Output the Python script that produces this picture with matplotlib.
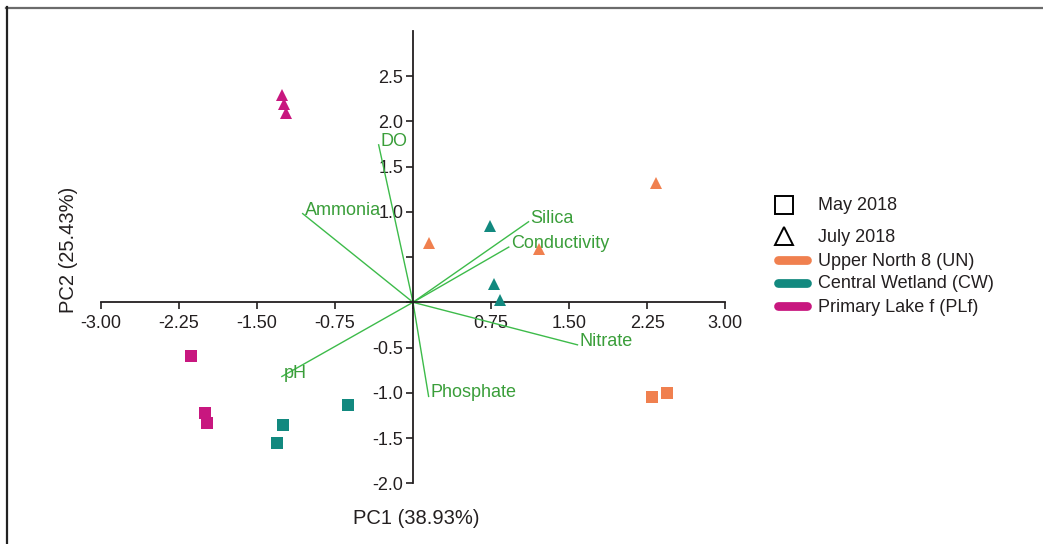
import matplotlib
matplotlib.use("Agg")
import matplotlib.pyplot as plt
from matplotlib.lines import Line2D
import numpy as np

plt.rcParams['font.family'] = ['Liberation Sans', 'DejaVu Sans']

# ---- data ----
sites = ["Upper North 8 (UN)", "Central Wetland (CW)", "Primary Lake f (PLf)"]
site_colors = ["#F0804F", "#12897F", "#C8177F"]
months = ["May 2018", "July 2018"]
month_markers = ["s", "^"]

# scores: (site index, month index, PC1, PC2)
score_site = [0, 0, 0, 0, 0,
              1, 1, 1, 1, 1, 1,
              2, 2, 2, 2, 2, 2]
score_month = [0, 0, 1, 1, 1,
               0, 0, 0, 1, 1, 1,
               0, 0, 0, 1, 1, 1]
score_pc1 = [2.30, 2.44, 2.33, 0.15, 1.21,
             -0.62, -1.25, -1.31, 0.74, 0.78, 0.84,
             -2.13, -2.00, -1.98, -1.26, -1.24, -1.22]
score_pc2 = [-1.05, -1.00, 1.32, 0.66, 0.59,
             -1.13, -1.36, -1.56, 0.84, 0.20, 0.02,
             -0.59, -1.22, -1.33, 2.29, 2.19, 2.09]

vec_names = ["DO", "Ammonia", "pH", "Silica", "Conductivity", "Nitrate", "Phosphate"]
vec_pc1 = [-0.33, -1.06, -1.26, 1.11, 0.92, 1.58, 0.15]
vec_pc2 = [1.74, 0.98, -0.82, 0.89, 0.61, -0.47, -1.04]

xticks = [-3.00, -2.25, -1.50, -0.75, 0.0, 0.75, 1.50, 2.25, 3.00]
xticklabels = ["-3.00", "-2.25", "-1.50", "-0.75", "", "0.75", "1.50", "2.25", "3.00"]
yticks = [-2.0, -1.5, -1.0, -0.5, 0.0, 0.5, 1.0, 1.5, 2.0, 2.5]
yticklabels = ["-2.0", "-1.5", "-1.0", "-0.5", "", "", "1.0", "1.5", "2.0", "2.5"]

xlabel = "PC1 (38.93%)"
ylabel = "PC2 (25.43%)"

# ---- figure ----
W, H = 1043, 544
fig = plt.figure(figsize=(W / 100, H / 100), dpi=100)

xlim = (-3.3, 3.3)
ylim = (-2.3, 3.1)
x0px = 413.0
ux = 104.1
y0px = 302.3
uy = 90.5
left = x0px + xlim[0] * ux
right = x0px + xlim[1] * ux
top = y0px - ylim[1] * uy
bottom = y0px - ylim[0] * uy
ax = fig.add_axes([left / W, 1 - bottom / H, (right - left) / W, (bottom - top) / H])
ax.set_xlim(*xlim)
ax.set_ylim(*ylim)
ax.patch.set_alpha(0)

axis_col = "#231F20"
for s in ["top", "right"]:
    ax.spines[s].set_visible(False)
ax.spines["left"].set_position("zero")
ax.spines["bottom"].set_position("zero")
ax.spines["left"].set_bounds(-2.0, 3.0)
ax.spines["bottom"].set_bounds(-3.0, 3.0)
for s in ["left", "bottom"]:
    ax.spines[s].set_color(axis_col)
    ax.spines[s].set_linewidth(1.3)

ax.set_xticks(xticks)
ax.set_xticklabels(xticklabels)
ax.set_yticks(yticks)
ax.set_yticklabels(yticklabels)
ax.tick_params(axis="both", direction="out", length=5, width=1.2, color=axis_col,
               labelsize=13, labelcolor=axis_col)
ax.tick_params(axis="x", pad=4)
ax.tick_params(axis="y", pad=2)

# vectors
vec_line = "#3DBB4A"
vec_text = "#3A9E3A"
for name, vx, vy in zip(vec_names, vec_pc1, vec_pc2):
    ax.plot([0, vx], [0, vy], color=vec_line, lw=1.0, zorder=2)
    ax.annotate(name, (vx, vy), xytext=(1.5, 2.5), textcoords="offset points",
                ha="left", va="center", color=vec_text, fontsize=13, zorder=3)

# scores
for si, mi, px, py in zip(score_site, score_month, score_pc1, score_pc2):
    mk = month_markers[mi]
    ms = 8 if mk == "s" else 9
    ax.plot([px], [py], marker=mk, color=site_colors[si], markersize=ms,
            linestyle="none", markeredgewidth=0, zorder=4)

# axis labels
fig.text(416 / W, 1 - 518 / H, xlabel, ha="center", va="center", fontsize=14.5,
         color=axis_col)
fig.text(68 / W, 1 - 250 / H, ylabel, ha="center", va="center", fontsize=14.5,
         rotation=90, color=axis_col)

# legend (manual)
leg_x_handle = 784 / W
leg_x_text = 818 / W
month_rows = [205, 236]
site_rows = [260, 283, 306]
for lab, mk, ry in zip(months, month_markers, month_rows):
    fig.add_artist(Line2D([leg_x_handle], [1 - ry / H], marker=mk, markersize=13,
                          markerfacecolor="none", markeredgecolor="black",
                          markeredgewidth=1.4, linestyle="none",
                          transform=fig.transFigure))
    fig.text(leg_x_text, 1 - (ry + 1) / H, lab, ha="left", va="center", fontsize=13,
             color=axis_col)
for lab, col, ry in zip(sites, site_colors, site_rows):
    fig.add_artist(Line2D([778 / W, 807 / W], [1 - ry / H, 1 - ry / H], color=col,
                          lw=6.3, solid_capstyle="round", transform=fig.transFigure))
    fig.text(leg_x_text, 1 - (ry + 1) / H, lab, ha="left", va="center", fontsize=13,
             color=axis_col)

# frame around figure (top and left)
fig.add_artist(Line2D([6 / W, 1], [1 - 7.5 / H, 1 - 7.5 / H], color="#6B6B6B", lw=1.6,
                      transform=fig.transFigure))
fig.add_artist(Line2D([6.5 / W, 6.5 / W], [1 - 7 / H, 0], color="#222222", lw=1.6,
                      transform=fig.transFigure))

fig.savefig("out.png", dpi=100)
